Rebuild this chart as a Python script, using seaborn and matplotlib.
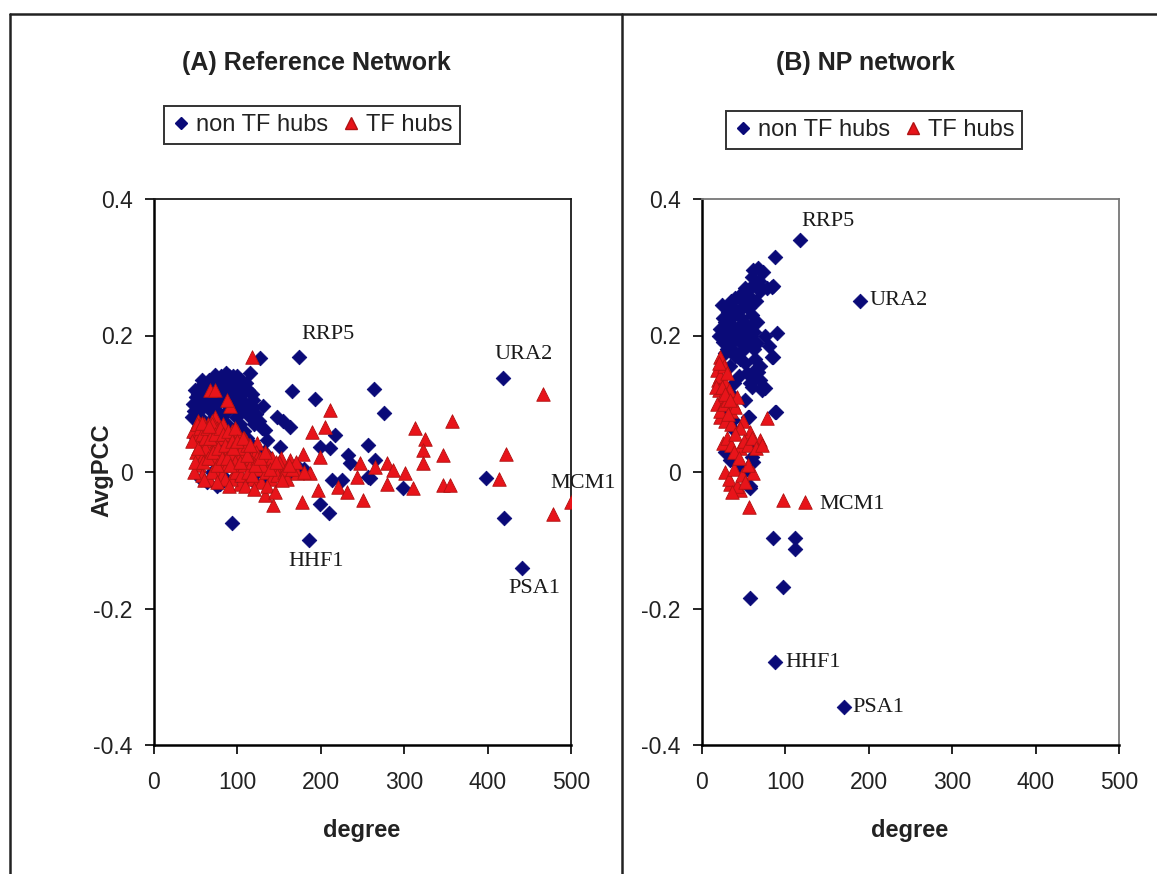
import numpy as np
import pandas as pd
import matplotlib
matplotlib.use("Agg")
import matplotlib.pyplot as plt
from matplotlib.lines import Line2D
import seaborn as sns

sns.set_theme(style="white")
plt.rcParams["font.family"] = ["Liberation Sans", "DejaVu Sans"]

# ---------------- data ----------------
# (A) Reference network: non-TF hubs
a_non_x = [174, 418, 441, 186, 420, 398, 94,
           264, 165, 193, 276, 217, 257, 233, 235, 265, 299, 199, 210, 213, 225, 259,
           147, 155, 163, 131, 119, 115, 127, 133, 135, 151, 199, 211, 79, 73, 95, 257,
           48, 52, 55, 58, 60, 62, 65, 68, 70, 72, 75, 78, 80, 82, 85, 88, 90, 92, 95, 98,
           100, 103, 105, 108, 110, 112, 115, 118, 120, 125,
           50, 54, 57, 61, 64, 67, 71, 74, 77, 81, 84, 87, 91, 94, 97, 101, 104, 107, 111,
           114, 117, 121, 124, 128, 132, 138, 143,
           56, 63, 70, 76, 86, 99, 110, 120, 135, 150, 160, 170, 180,
           66, 86, 104, 110, 96, 118, 60, 80, 90, 100, 50, 55,
           46, 47, 49, 53, 57, 59, 63, 67, 69, 73, 76, 79, 83, 87, 89, 93, 97, 99, 102,
           106, 109, 113, 116, 119, 122, 126, 129, 54, 71, 91]
a_non_y = [0.169, 0.138, -0.140, -0.099, -0.068, -0.009, -0.074,
           0.121, 0.119, 0.107, 0.086, 0.054, 0.039, 0.025, 0.013, 0.018, -0.023, -0.047,
           -0.060, -0.012, -0.012, -0.009,
           0.081, 0.074, 0.066, 0.096, 0.105, 0.145, 0.167, 0.062, 0.047, 0.037, 0.036,
           0.035, -0.017, 0.142, 0.140, -0.007,
           0.09, 0.10, 0.08, 0.11, 0.12, 0.10, 0.13, 0.09, 0.11, 0.12, 0.10, 0.13, 0.08,
           0.11, 0.12, 0.09, 0.14, 0.10, 0.12, 0.08, 0.11, 0.07, 0.09, 0.06, 0.10, 0.05,
           0.08, 0.04, 0.07, 0.03,
           0.05, 0.07, 0.03, 0.06, 0.02, 0.075, 0.045, 0.065, 0.02, 0.05, 0.035, 0.07,
           0.025, 0.055, 0.04, 0.02, 0.05, 0.03, 0.01, 0.035, 0.015, 0.025, 0.0, 0.01,
           0.03, 0.015, 0.005,
           -0.01, -0.015, 0.0, -0.02, -0.01, -0.005, -0.012, -0.015, -0.01, 0.0, -0.005,
           0.01, 0.005,
           0.135, 0.145, 0.135, 0.13, 0.095, 0.115, 0.125, 0.14, 0.125, 0.14, 0.11, 0.125,
           0.08, 0.10, 0.12, 0.115, 0.135, 0.095, 0.11, 0.115, 0.10, 0.135, 0.09, 0.12,
           0.13, 0.10, 0.135, 0.115, 0.13, 0.105, 0.125, 0.115, 0.095, 0.12, 0.09, 0.095,
           0.085, 0.075, 0.065, 0.095, 0.125, 0.105]

# (A) Reference network: TF hubs
a_tf_x = [118, 466, 478, 500, 414, 422,
          211, 189, 205, 313, 357, 325, 323, 323, 346, 347, 355, 311, 279, 279, 287, 301,
          251, 177, 143, 133, 103, 179, 199, 197, 221, 231, 247, 243, 265, 163, 151, 171,
          187, 123, 73, 67, 91, 87, 73,
          47, 50, 52, 54, 56, 58, 60, 62, 64, 66, 68, 70, 72, 74, 76, 78, 80, 82, 84, 86,
          88, 90, 92, 94, 96, 98, 100, 102, 104, 106, 108, 110, 113, 116, 119, 122, 125,
          128, 131, 134, 137, 140, 144, 148, 152, 156, 160,
          48, 53, 57, 61, 65, 69, 73, 77, 81, 85, 89, 93, 97, 101, 105, 109, 114, 118,
          124, 130, 136, 142, 150, 158,
          55, 63, 70, 83, 100, 108, 112, 60, 75, 90, 120, 145, 165, 170, 180,
          46, 49, 51, 53, 55, 57, 59, 61, 63, 65, 67, 69, 71, 73, 75, 77, 79, 81, 83, 85,
          87, 89, 91, 93, 95, 97, 99, 103, 107, 111, 115, 117, 121, 127, 133, 139, 146,
          154, 162, 58, 66]
a_tf_y = [0.169, 0.114, -0.061, -0.0435, -0.010, 0.026,
          0.091, 0.059, 0.066, 0.064, 0.074, 0.049, 0.032, 0.013, 0.025, -0.019, -0.019,
          -0.024, -0.017, 0.013, 0.003, -0.002,
          -0.041, -0.044, -0.048, -0.034, -0.017, 0.027, 0.022, -0.026, -0.022, -0.029,
          0.013, -0.007, 0.008, 0.018, 0.008, -0.002, -0.002, 0.042, 0.081, 0.120, 0.096,
          0.105, 0.120,
          0.06, 0.03, 0.05, 0.01, 0.04, -0.005, 0.07, 0.02, 0.045, -0.01, 0.03, 0.06,
          0.005, 0.04, 0.065, 0.015, 0.05, -0.005, 0.03, 0.06, 0.01, 0.045, -0.01, 0.025,
          0.055, 0.0, 0.02, 0.04, -0.005, 0.03, 0.01, 0.045, 0.0, 0.02, -0.01, 0.03, 0.005,
          -0.015, 0.015, 0.0, 0.025, -0.01, 0.01, -0.005, 0.02, 0.0, -0.01,
          0.0, 0.075, 0.02, 0.035, 0.07, 0.0, 0.02, 0.055, 0.065, -0.01, 0.035, 0.06,
          0.015, 0.05, 0.035, -0.02, 0.04, 0.015, 0.02, 0.01, -0.02, 0.02, 0.015, 0.005,
          0.07, 0.065, 0.075, 0.07, 0.06, 0.05, 0.04, -0.012, -0.015, -0.02,
          -0.025, -0.03, 0.005, 0.015, 0.0,
          0.045, 0.015, 0.07, 0.035, 0.065, 0.055, 0.015, 0.05, 0.065, 0.02, 0.05, 0.07,
          0.03, 0.055, 0.01, 0.035, 0.065, 0.02, 0.055, 0.04, 0.02, 0.06, 0.01, 0.045,
          0.035, 0.065, 0.045, 0.015, 0.05, 0.025, 0.04, -0.005, 0.01, 0.02, 0.03, 0.005,
          0.015, -0.012, 0.01, 0.072, 0.068]

# (B) NP network: non-TF hubs
b_non_x = [117, 189, 87.5, 170,
           85, 111, 111, 97, 58, 57, 87.5, 73.5, 67, 85.5, 89.5, 85.5, 87.5, 75.5, 61.5,
           65.6, 53.6, 49.5, 33.6, 61.5, 37, 55.5, 57.5,
           83.5, 61.5, 65.6, 57.5, 49.5, 45.6, 37.5, 29.6, 25.5, 57.5,
           22, 25, 28, 30, 32, 35, 38, 40, 42, 45, 48, 50, 52, 55, 58, 60, 62, 65, 68, 25,
           28, 33, 36, 41, 46, 50, 54, 58, 63, 70, 72, 44, 38, 30, 48, 56, 62, 52, 45, 66,
           24, 35, 40, 60, 70, 78, 80, 75, 70,
           30, 40, 28, 45, 52, 60, 35, 50,
           83.5, 73.5, 59.6, 67.5, 88.7, 56.7, 35.6, 39.6, 59.6,
           20, 27, 34, 43, 53, 47, 39, 31, 57, 64, 42, 36]
b_non_y = [0.340, 0.251, -0.279, -0.345,
           -0.097, -0.097, -0.113, -0.169, -0.184, -0.021, 0.315, 0.293, 0.299, 0.272,
           0.203, 0.169, 0.088, 0.123, 0.147, 0.189, 0.242, 0.262, 0.018, 0.015, 0.076,
           0.081, -0.024,
           0.271, 0.296, 0.276, 0.257, 0.252, 0.237, 0.228, 0.218, 0.203, 0.213,
           0.21, 0.19, 0.22, 0.18, 0.23, 0.20, 0.24, 0.17, 0.21, 0.19, 0.25, 0.22, 0.16,
           0.20, 0.27, 0.23, 0.18, 0.25, 0.28, 0.225, 0.175, 0.155, 0.215, 0.235, 0.165,
           0.18, 0.145, 0.13, 0.14, 0.155, 0.12, 0.14, 0.13, 0.2, 0.205, 0.24, 0.205,
           0.27, 0.26, 0.22, 0.245, 0.25, 0.255, 0.285, 0.265, 0.27, 0.185, 0.2, 0.135,
           0.09, 0.06, 0.03, 0.005, 0.105, 0.04, 0.115, 0.0,
           0.169, 0.125, 0.125, 0.147, 0.088, 0.081, 0.076, 0.015, 0.022,
           0.2, 0.205, 0.19, 0.2, 0.21, 0.225, 0.195, 0.235, 0.19, 0.165, 0.17, 0.18]

# (B) NP network: TF hubs
b_tf_x = [96.7, 123.5, 56.7, 21.6, 19.6, 21.6, 37.5, 49.5, 77.6, 25.5, 69.5, 57.5,
          33.6, 45.6, 61.5,
          18, 22, 26, 20, 24, 28, 32, 18, 22, 26, 30, 35, 40, 42, 20, 30, 28, 35, 45, 30,
          35, 40, 45, 50, 55, 60, 65, 72, 38, 28, 32, 38, 42, 48, 52, 55, 36, 44,
          17, 24, 31, 27, 34]
b_tf_y = [-0.041, -0.0435, -0.051, 0.169, 0.135, 0.081, 0.101, 0.074, 0.079, 0.042,
          0.047, 0.059, -0.017, -0.026, -0.002,
          0.15, 0.14, 0.155, 0.12, 0.11, 0.13, 0.12, 0.10, 0.09, 0.10, 0.105, 0.09,
          0.095, 0.11, 0.16, 0.145, 0.075, 0.07, 0.065, 0.05, 0.04, 0.055, 0.035, 0.045,
          0.04, 0.05, 0.035, 0.04, 0.03, 0.0, -0.01, 0.005, -0.02, -0.005, -0.015, 0.01,
          -0.03, 0.02,
          0.125, 0.125, 0.085, 0.115, 0.105]

# named hubs: (series, index in that series, text offset in pixels, alignment)
a_labels = [("RRP5", "non", 0, (29, 22), "center"),
            ("URA2", "non", 1, (21, 23), "center"),
            ("PSA1", "non", 2, (13, -21), "center"),
            ("HHF1", "non", 3, (7, -22), "center"),
            ("MCM1", "tf", 3, (12, 18), "center")]
b_labels = [("RRP5", "non", 0, (28, 18), "center"),
            ("URA2", "non", 1, (10, 0), "left"),
            ("HHF1", "non", 2, (10, 0), "left"),
            ("PSA1", "non", 3, (9, 0), "left"),
            ("MCM1", "tf", 1, (14, -3), "left")]

x_ticks = [0, 100, 200, 300, 400, 500]
y_ticks = [-0.4, -0.2, 0.0, 0.2, 0.4]
y_tick_labels = ["-0.4", "-0.2", "0", "0.2", "0.4"]

NAVY = "#0a0a78"
RED = "#e8141a"
RED_EDGE = "#b01212"

W, H = 1157, 874
fig = plt.figure(figsize=(W / 100, H / 100), dpi=100)
fig.patch.set_facecolor("white")


def px_axes(left, top, right, bottom):
    return fig.add_axes([left / W, 1 - bottom / H, (right - left) / W, (bottom - top) / H])


def draw_panel(ax, nx, ny, tx, ty, labels, frame_color):
    non = pd.DataFrame({"degree": nx, "AvgPCC": ny})
    tf = pd.DataFrame({"degree": tx, "AvgPCC": ty})
    sns.scatterplot(data=non, x="degree", y="AvgPCC", ax=ax, marker="D", s=55,
                    color=NAVY, edgecolor=NAVY, linewidth=0.6, zorder=3)
    sns.scatterplot(data=tf, x="degree", y="AvgPCC", ax=ax, marker="^", s=95,
                    color=RED, edgecolor=RED_EDGE, linewidth=0.6, zorder=4)
    ax.set_xlim(0, 500)
    ax.set_ylim(-0.4, 0.4)
    ax.set_xticks(x_ticks)
    ax.set_xticklabels([str(t) for t in x_ticks])
    ax.set_yticks(y_ticks)
    ax.set_yticklabels(y_tick_labels)
    ax.tick_params(axis="both", direction="out", length=6.5, width=1.2, color="black",
                   labelsize=16.5, labelcolor="#222222", left=True, bottom=True)
    ax.tick_params(axis="x", pad=12)
    ax.tick_params(axis="y", pad=9)
    ax.set_xlabel("")
    ax.set_ylabel("")
    for side in ("left", "bottom"):
        ax.spines[side].set_color("black")
        ax.spines[side].set_linewidth(1.8)
    for side in ("top", "right"):
        ax.spines[side].set_color(frame_color)
        ax.spines[side].set_linewidth(1.3)
    ax.grid(False)
    for name, series, idx, off, ha in labels:
        px, py = (nx[idx], ny[idx]) if series == "non" else (tx[idx], ty[idx])
        ax.annotate(name, xy=(px, py), xytext=off, textcoords="offset pixels",
                    ha=ha, va="center", fontsize=16, color="#1a1a1a",
                    family=["Liberation Serif", "DejaVu Serif"], annotation_clip=False,
                    zorder=2)


ax_a = px_axes(154, 199, 571, 745)
ax_b = px_axes(702, 199, 1119, 745)
draw_panel(ax_a, a_non_x, a_non_y, a_tf_x, a_tf_y, a_labels, "#1a1a1a")
draw_panel(ax_b, b_non_x, b_non_y, b_tf_x, b_tf_y, b_labels, "#777777")

# outer frame and divider between the two panels
for xs, ys in [((10, W), (14, 14)), ((10, 10), (14, H)), ((622, 622), (14, H))]:
    fig.add_artist(Line2D([x / W for x in xs], [1 - y / H for y in ys],
                          color="#222222", linewidth=1.8))

# titles
fig.text(316 / W, 1 - 63 / H, "(A) Reference Network", ha="center", va="center",
         fontsize=18, fontweight="bold", color="#222222")
fig.text(865 / W, 1 - 63 / H, "(B) NP network", ha="center", va="center",
         fontsize=18, fontweight="bold", color="#222222")

# axis labels
fig.text(362 / W, 1 - 830 / H, "degree", ha="center", va="center",
         fontsize=17, fontweight="bold", color="#222222")
fig.text(910 / W, 1 - 831 / H, "degree", ha="center", va="center",
         fontsize=17, fontweight="bold", color="#222222")
fig.text(102 / W, 1 - 470 / H, "AvgPCC", ha="center", va="center", rotation=90,
         fontsize=17, fontweight="bold", color="#222222")

# legends
handles = [Line2D([], [], marker="D", linestyle="none", markersize=6,
                  markerfacecolor=NAVY, markeredgecolor=NAVY, label="non TF hubs"),
           Line2D([], [], marker="^", linestyle="none", markersize=9,
                  markerfacecolor=RED, markeredgecolor=RED_EDGE, label="TF hubs")]
for cx, cy in [(312, 125), (874, 130)]:
    leg = fig.legend(handles=handles, loc="center", bbox_to_anchor=(cx / W, 1 - cy / H),
                     ncol=2, frameon=True, fancybox=False, fontsize=17,
                     handlelength=0.8, handletextpad=0.2, columnspacing=0.6,
                     borderpad=0.35, borderaxespad=0)
    leg.get_frame().set_edgecolor("black")
    leg.get_frame().set_linewidth(1.4)
    for t in leg.get_texts():
        t.set_color("#222222")

fig.savefig("out.png", dpi=100, facecolor="white")
